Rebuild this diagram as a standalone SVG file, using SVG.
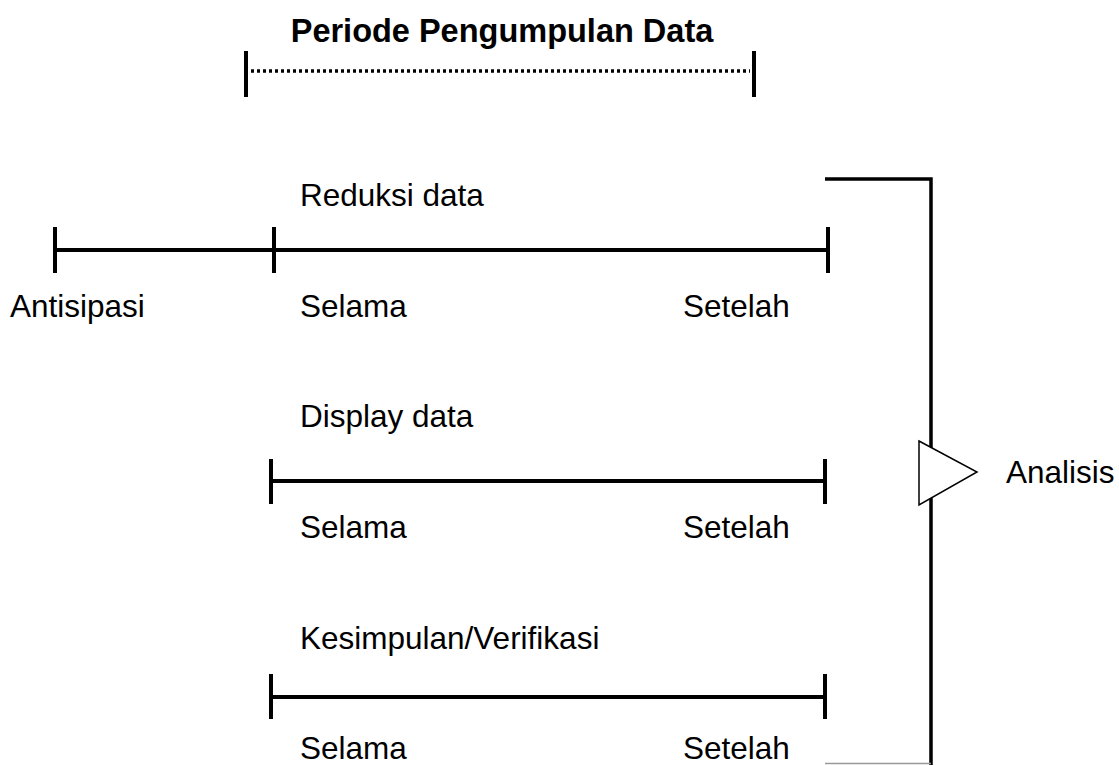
<svg xmlns="http://www.w3.org/2000/svg" width="1119" height="765" viewBox="0 0 1119 765">
<style>
text{font-family:"Liberation Sans",Arial,sans-serif;font-size:31.5px;fill:#000}
.b{font-weight:bold;font-size:32.5px}
.ln{stroke:#000;stroke-width:4;fill:none}
.br{stroke:#000;stroke-width:3.5;fill:none}
</style>
<rect width="1119" height="765" fill="#fff"/>
<g id="periode">
<text class="b" x="502" y="42" text-anchor="middle">Periode Pengumpulan Data</text>
<line class="ln" x1="246" y1="51" x2="246" y2="97"/>
<line class="ln" x1="754" y1="51" x2="754" y2="97"/>
<line x1="251" y1="71" x2="750" y2="71" stroke="#000" stroke-width="3.5" stroke-dasharray="3 3"/>
</g>
<g id="reduksi">
<text x="300" y="206">Reduksi data</text>
<line class="ln" x1="55" y1="250" x2="828" y2="250"/>
<line class="ln" x1="55" y1="227" x2="55" y2="273"/>
<line class="ln" x1="274" y1="227" x2="274" y2="273"/>
<line class="ln" x1="828" y1="227" x2="828" y2="273"/>
<text x="10" y="317">Antisipasi</text>
<text x="300" y="317">Selama</text>
<text x="683" y="317">Setelah</text>
</g>
<g id="display">
<text x="300" y="427">Display data</text>
<line class="ln" x1="271" y1="481" x2="825" y2="481"/>
<line class="ln" x1="271" y1="459" x2="271" y2="504"/>
<line class="ln" x1="825" y1="459" x2="825" y2="504"/>
<text x="300" y="538">Selama</text>
<text x="683" y="538">Setelah</text>
</g>
<g id="kesimpulan">
<text x="300" y="649">Kesimpulan/Verifikasi</text>
<line class="ln" x1="271" y1="697" x2="825" y2="697"/>
<line class="ln" x1="271" y1="674" x2="271" y2="719"/>
<line class="ln" x1="825" y1="674" x2="825" y2="719"/>
<text x="300" y="759">Selama</text>
<text x="683" y="759">Setelah</text>
</g>
<g id="connectors">
<polyline class="br" points="825,179 931,179 931,765"/>
<line x1="825" y1="763.5" x2="931" y2="763.5" stroke="#999" stroke-width="1.5"/>
</g>
<g id="analisis">
<polygon points="919,441 977,472 919,505" fill="#fff" stroke="#000" stroke-width="1.5"/>
<text x="1006" y="483">Analisis</text>
</g>
</svg>
